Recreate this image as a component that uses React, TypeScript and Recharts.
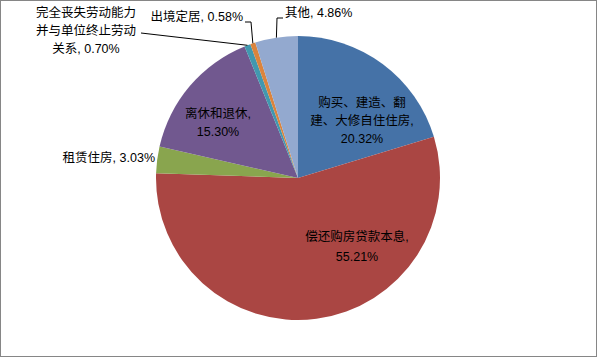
import React from "react";
import { PieChart, Pie, Cell } from "recharts";

// slices, clockwise from 12 o'clock
const sliceNames = [
  "购买、建造、翻建、大修自住住房",
  "偿还购房贷款本息",
  "租赁住房",
  "离休和退休",
  "完全丧失劳动能力并与单位终止劳动关系",
  "出境定居",
  "其他",
];
const sliceValues = [20.32, 55.21, 3.03, 15.3, 0.7, 0.58, 4.86];
const sliceColors = ["#4572A7", "#AA4643", "#89A54E", "#71588F", "#4198AF", "#DB843D", "#93A9CF"];

// how each name is wrapped in its label; pctOwnLine puts the percent on its own line
const nameLines = [
  ["购买、建造、翻", "建、大修自住住房"],
  ["偿还购房贷款本息"],
  ["租赁住房"],
  ["离休和退休"],
  ["完全丧失劳动能力", "并与单位终止劳动", "关系"],
  ["出境定居"],
  ["其他"],
];
const pctOwnLine = [true, true, false, true, false, false, false];

// label placement relative to pie centre (x, y of first line centre)
type LabelPos = {
  dx: number;
  dy: number;
  anchor: "start" | "middle" | "end";
  lh: number;
  leader?: number[][];
};
const labelPos: LabelPos[] = [
  { dx: 64, dy: -75, anchor: "middle", lh: 18 },
  { dx: 59, dy: 59, anchor: "middle", lh: 20 },
  { dx: -143, dy: -20, anchor: "end", lh: 18 },
  { dx: -80, dy: -64, anchor: "middle", lh: 18 },
  { dx: -212, dy: -165, anchor: "middle", lh: 18, leader: [[-157, -145]] },
  { dx: -55, dy: -161, anchor: "end", lh: 18, leader: [[-53, -156], [-47, -156]] },
  { dx: -13, dy: -165, anchor: "start", lh: 18, leader: [[-15, -160], [-21, -160]] },
];

const data = sliceNames.map((name, i) => ({ name, value: sliceValues[i] }));

const FONT = "'Liberation Sans', 'Noto Sans CJK SC', sans-serif";
const RAD = Math.PI / 180;

const renderLabel = (props: any) => {
  const { cx, cy, midAngle, outerRadius, index, value } = props;
  const pos = labelPos[index];
  const pct = `${value.toFixed(2)}%`;
  const names = nameLines[index];
  let lines: string[];
  if (pctOwnLine[index]) {
    lines = [...names.slice(0, -1), names[names.length - 1] + ",", pct];
  } else {
    lines = [...names.slice(0, -1), names[names.length - 1] + ", " + pct];
  }
  const x = cx + pos.dx;
  let leader = null;
  if (pos.leader) {
    const ex = cx + outerRadius * Math.cos(-midAngle * RAD);
    const ey = cy + outerRadius * Math.sin(-midAngle * RAD);
    const pts = pos.leader.map((p) => `${cx + p[0]},${cy + p[1]}`).join(" ") + ` ${ex},${ey}`;
    leader = <polyline points={pts} fill="none" stroke="#000" strokeWidth={1} />;
  }
  return (
    <g key={`lbl-${index}`}>
      {leader}
      <text
        x={x}
        y={cy + pos.dy}
        textAnchor={pos.anchor}
        fontFamily={FONT}
        fontSize={12.5}
        fill="#000"
      >
        {lines.map((l, k) => (
          <tspan key={k} x={x} y={cy + pos.dy + k * pos.lh} dominantBaseline="central">
            {l}
          </tspan>
        ))}
      </text>
    </g>
  );
};

export default function App() {
  return (
    <div
      style={{
        position: "absolute",
        left: 0,
        top: 0,
        width: 597,
        height: 357,
        boxSizing: "border-box",
        border: "1px solid #868686",
        background: "#fff",
      }}
    >
      <PieChart width={595} height={355} margin={{ top: 0, right: 0, bottom: 0, left: 0 }}>
        <Pie
          data={data}
          dataKey="value"
          nameKey="name"
          cx={297}
          cy={177}
          outerRadius={142}
          startAngle={90}
          endAngle={-270}
          stroke="none"
          label={renderLabel}
          labelLine={false}
          isAnimationActive={false}
        >
          {data.map((d, i) => (
            <Cell key={d.name} fill={sliceColors[i]} />
          ))}
        </Pie>
      </PieChart>
    </div>
  );
}
